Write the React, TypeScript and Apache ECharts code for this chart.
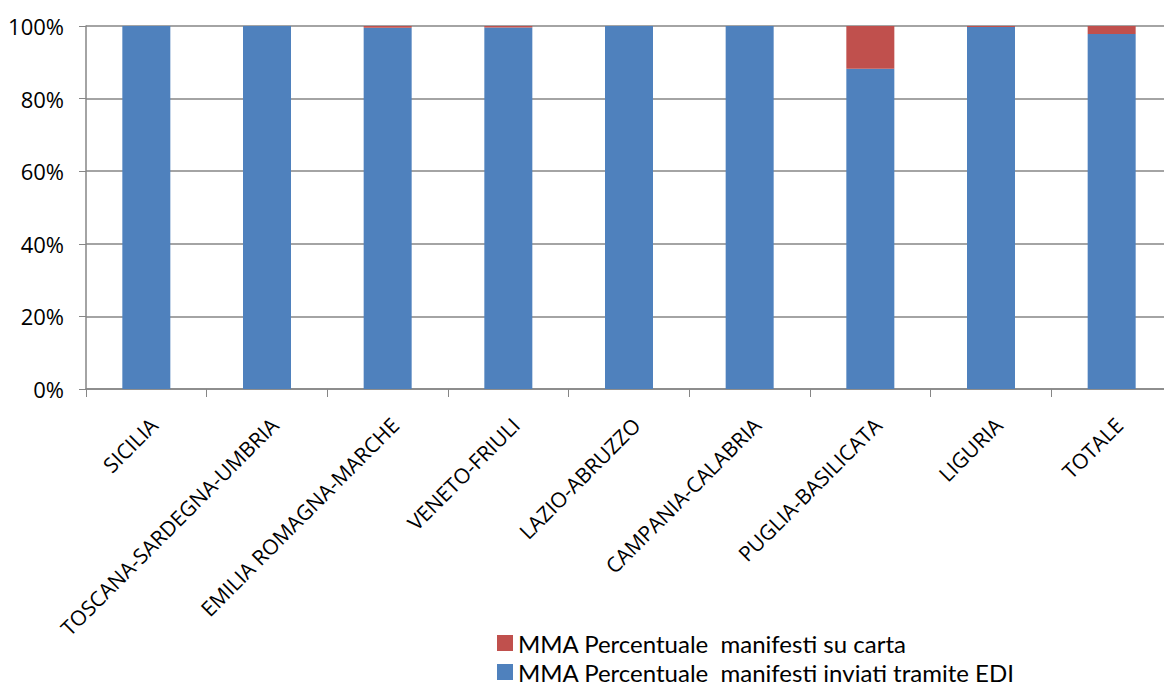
import React, { useEffect, useRef } from "react";
import * as echarts from "echarts";

const categories = [
  "SICILIA",
  "TOSCANA-SARDEGNA-UMBRIA",
  "EMILIA ROMAGNA-MARCHE",
  "VENETO-FRIULI",
  "LAZIO-ABRUZZO",
  "CAMPANIA-CALABRIA",
  "PUGLIA-BASILICATA",
  "LIGURIA",
  "TOTALE",
];
const ediValues = [100, 100, 99.5, 99.6, 100, 100, 88.2, 99.7, 97.8];
const cartaValues = [0, 0, 0.5, 0.4, 0, 0, 11.8, 0.3, 2.2];
const seriesNames = [
  "MMA Percentuale  manifesti su carta",
  "MMA Percentuale  manifesti inviati tramite EDI",
];
const yTicks = [0, 20, 40, 60, 80, 100];

export default function App() {
  const ref = useRef<HTMLDivElement>(null);
  useEffect(() => {
    if (!ref.current) return;
    const chart = echarts.init(ref.current, undefined, { renderer: "svg" });
    const font = "'Open Sans', 'Noto Sans', sans-serif";
    const legendFont = "Lato, 'Open Sans', sans-serif";
    const legendBase = {
      orient: "vertical",
      left: 497,
      itemWidth: 16,
      itemHeight: 16,
      itemGap: 0,
      icon: "rect",
      padding: 0,
      textStyle: { fontSize: 24, lineHeight: 24, color: "#000", fontFamily: legendFont },
    };
    chart.setOption({
      animation: false,
      textStyle: { fontFamily: font },
      grid: { left: 86, top: 26, width: 1086, height: 363, containLabel: false },
      legend: [
        { ...legendBase, top: 631, data: [seriesNames[0]] },
        { ...legendBase, top: 660, data: [seriesNames[1]] },
      ],
      xAxis: {
        type: "category",
        data: categories,
        axisLine: { lineStyle: { color: "#868686", width: 1.5 } },
        axisTick: { show: true, length: 8, lineStyle: { color: "#868686" } },
        axisLabel: {
          rotate: 45,
          fontSize: 21,
          color: "#000",
          margin: 25,
          interval: 0,
          fontFamily: font,
          verticalAlign: "top",
        },
      },
      yAxis: {
        type: "value",
        min: 0,
        max: 100,
        interval: 20,
        axisLine: { show: true, lineStyle: { color: "#868686", width: 1.5 } },
        axisTick: { show: true, length: 7, lineStyle: { color: "#868686" } },
        splitLine: { lineStyle: { color: "#868686", width: 1.5 } },
        axisLabel: {
          fontSize: 22,
          color: "#000",
          margin: 22,
          fontFamily: font,
          formatter: (v: number) => (yTicks.includes(v) ? v + "%" : ""),
        },
      },
      series: [
        {
          name: seriesNames[1],
          type: "bar",
          stack: "total",
          barWidth: 48,
          data: ediValues,
          itemStyle: { color: "#4F81BD" },
        },
        {
          name: seriesNames[0],
          type: "bar",
          stack: "total",
          barWidth: 48,
          data: cartaValues,
          itemStyle: { color: "#C0504D" },
        },
      ],
    });
    return () => chart.dispose();
  }, []);
  return (
    <div
      ref={ref}
      style={{ position: "fixed", left: 0, top: 0, width: 1180, height: 686, background: "#fff" }}
    />
  );
}
